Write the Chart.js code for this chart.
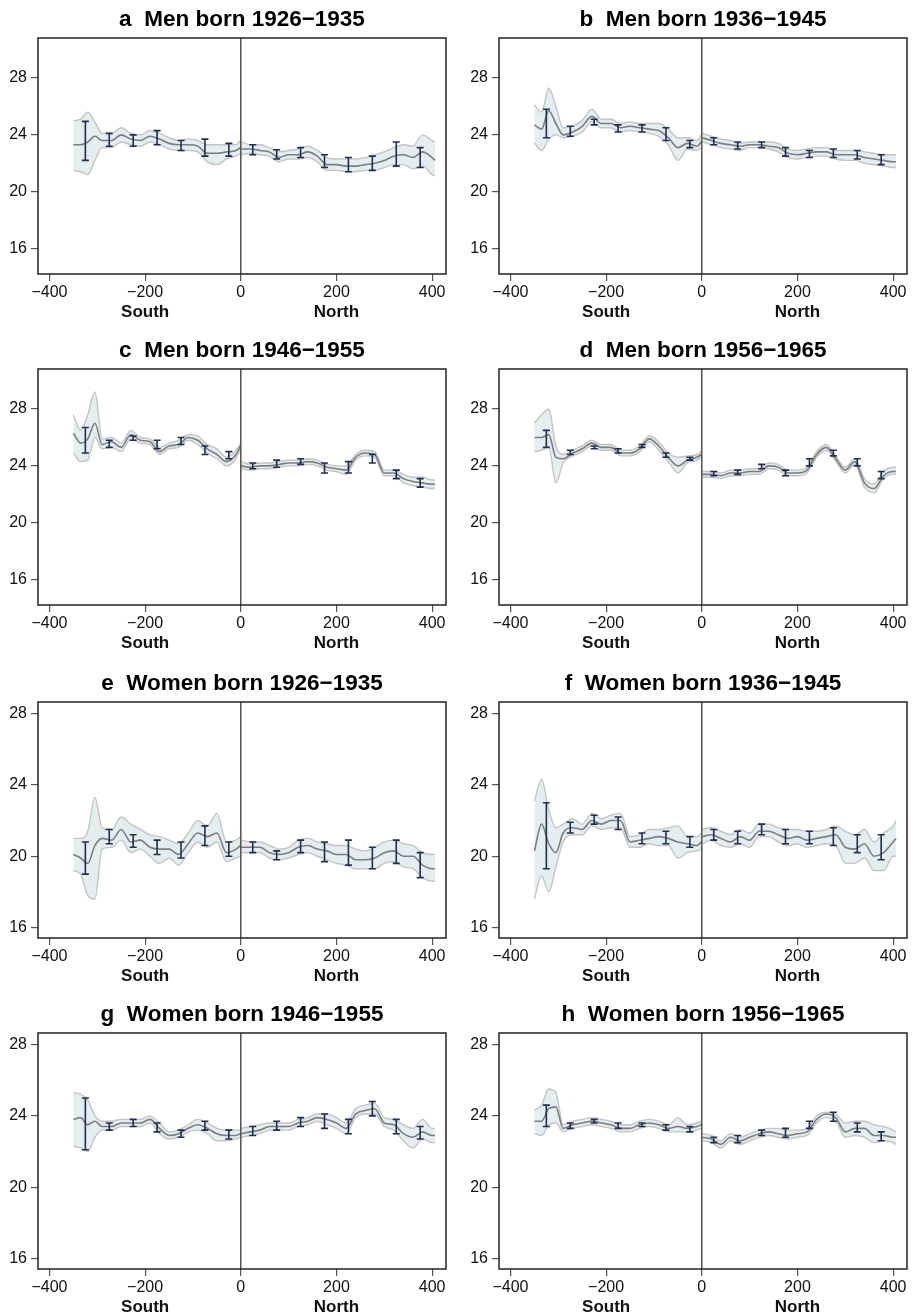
<!DOCTYPE html>
<html>
<head>
<meta charset="utf-8">
<script src="https://cdn.jsdelivr.net/npm/chart.js@4.4.1/dist/chart.umd.min.js"></script>
<style>
  body { margin: 0; background: #fff; width: 913px; height: 1315px; overflow: hidden; position: relative; }
  canvas { position: absolute; }
</style>
</head>
<body>
<canvas id="a" width="456" height="320" style="left:0;top:0"></canvas>
<canvas id="b" width="458" height="320" style="left:455px;top:0"></canvas>
<canvas id="c" width="456" height="320" style="left:0;top:331px"></canvas>
<canvas id="d" width="458" height="320" style="left:455px;top:331px"></canvas>
<canvas id="e" width="456" height="320" style="left:0;top:664px"></canvas>
<canvas id="f" width="458" height="320" style="left:455px;top:664px"></canvas>
<canvas id="g" width="456" height="320" style="left:0;top:995px"></canvas>
<canvas id="h" width="458" height="320" style="left:455px;top:995px"></canvas>
<script>
// distance grids (km), south side and north side of the border
const xsS = [-350,-335,-320,-305,-290,-270,-250,-230,-210,-190,-170,-150,-130,-110,-90,-70,-50,-30,-10,-1];
const xsN = [1,20,40,60,80,100,120,140,160,180,200,220,240,260,280,300,320,340,360,380,400,406];
const binX = [-325,-275,-225,-175,-125,-75,-25,25,75,125,175,225,275,325,375];
const xTicks = [-400,-200,0,200,400];
const yTicks = [16,20,24,28];

// a  Men born 1926-1935
const aMeanS = [23.3,23.3,23.5,23.9,23.6,23.6,24.0,23.7,23.6,23.9,23.7,23.4,23.3,23.3,23.2,22.7,22.7,22.8,22.9,23.1];
const aLoS   = [21.5,21.4,21.2,22.2,23.1,23.1,23.5,23.3,23.2,23.5,23.3,23.0,22.9,22.9,22.8,22.1,21.9,22.3,22.5,22.7];
const aHiS   = [25.0,25.1,25.6,24.9,24.1,24.1,24.5,24.1,24.0,24.3,24.1,23.8,23.6,23.7,23.6,23.3,23.3,23.3,23.3,23.6];
const aMeanN = [23.0,23.0,22.9,22.8,22.4,22.6,22.6,22.8,22.5,21.9,21.9,21.8,21.8,21.9,22.0,22.2,22.5,22.6,22.4,22.8,22.4,22.2];
const aLoN   = [22.6,22.7,22.6,22.5,22.1,22.3,22.3,22.4,22.1,21.5,21.5,21.4,21.4,21.5,21.5,21.7,21.9,21.9,21.6,21.8,21.2,21.1];
const aHiN   = [23.5,23.3,23.3,23.1,22.8,22.9,23.0,23.2,22.9,22.4,22.3,22.3,22.3,22.4,22.6,22.8,23.1,23.3,23.2,24.0,23.6,23.5];
const aBarLo = [22.2,23.2,23.2,23.3,22.9,22.5,22.5,22.6,22.3,22.4,21.7,21.4,21.5,21.8,21.7];
const aBarHi = [24.95,24.1,24.0,24.3,23.6,23.7,23.4,23.3,22.95,23.1,22.6,22.4,22.5,23.5,23.1];

// b  Men born 1936-1945
const bMeanS = [24.7,24.4,25.7,24.8,24.0,24.2,24.6,25.3,24.8,24.8,24.5,24.6,24.5,24.4,24.3,23.8,23.1,23.4,23.2,23.5];
const bLoS   = [23.4,22.9,23.7,24.0,23.8,23.9,24.2,24.9,24.5,24.5,24.2,24.3,24.2,24.1,23.9,23.3,22.2,23.0,22.9,23.1];
const bHiS   = [26.1,25.6,27.3,26.0,24.5,24.6,25.0,25.8,25.1,25.1,24.8,24.9,24.8,24.8,24.8,24.4,23.8,23.8,23.6,24.0];
const bMeanN = [23.8,23.6,23.4,23.3,23.2,23.3,23.3,23.2,23.1,22.7,22.6,22.7,22.8,22.8,22.6,22.6,22.6,22.4,22.3,22.2,22.1,22.1];
const bLoN   = [23.5,23.3,23.1,23.0,22.9,23.1,23.1,23.0,22.8,22.4,22.3,22.4,22.5,22.5,22.3,22.2,22.2,22.0,21.9,21.8,21.7,21.7];
const bHiN   = [24.1,23.9,23.7,23.6,23.4,23.5,23.5,23.5,23.4,23.0,22.9,23.0,23.1,23.1,22.9,22.9,22.9,22.8,22.7,22.6,22.6,22.6];
const bBarLo = [23.8,23.9,24.7,24.2,24.2,23.6,23.1,23.3,23.0,23.1,22.5,22.4,22.4,22.3,21.9];
const bBarHi = [25.8,24.6,25.1,24.7,24.7,24.5,23.6,23.8,23.5,23.5,23.1,22.9,23.0,22.9,22.6];

// c  Men born 1946-1955
const cMeanS = [26.3,25.6,25.9,27.0,25.5,25.7,25.3,26.2,25.8,25.7,25.0,25.4,25.5,26.0,25.8,25.2,24.8,24.3,24.8,25.4];
const cLoS   = [24.9,24.3,24.4,26.0,25.2,25.3,25.0,25.9,25.6,25.5,24.8,25.2,25.3,25.8,25.5,24.9,24.5,24.0,24.5,25.2];
const cHiS   = [27.6,26.5,27.6,29.2,25.9,26.0,25.6,26.5,26.0,25.9,25.3,25.6,25.8,26.2,26.1,25.5,25.2,24.6,25.1,25.5];
const cMeanN = [24.0,23.9,24.0,24.0,24.1,24.2,24.2,24.3,24.2,23.9,23.8,23.7,24.6,24.9,24.8,23.5,23.5,23.1,22.9,22.8,22.7,22.7];
const cLoN   = [23.8,23.7,23.8,23.8,23.9,24.0,24.0,24.1,24.0,23.7,23.6,23.4,24.4,24.7,24.6,23.3,23.3,22.8,22.6,22.5,22.4,22.4];
const cHiN   = [24.3,24.1,24.2,24.2,24.3,24.4,24.4,24.5,24.4,24.1,24.0,24.0,24.8,25.1,25.0,23.7,23.7,23.4,23.2,23.2,23.0,23.0];
const cBarLo = [24.9,25.3,25.8,25.2,25.5,24.8,24.5,23.8,23.9,24.1,23.5,23.5,24.2,23.1,22.5];
const cBarHi = [26.7,25.8,26.1,25.8,26.0,25.4,25.0,24.2,24.4,24.5,24.2,24.3,24.8,23.7,23.1];

// d  Men born 1956-1965
const dMeanS = [26.0,26.0,26.2,24.6,24.5,24.9,25.2,25.6,25.3,25.3,24.9,24.9,25.2,25.9,25.4,24.6,24.0,24.4,24.6,24.8];
const dLoS   = [25.0,25.1,25.3,22.8,24.2,24.7,25.0,25.4,25.1,25.1,24.7,24.7,25.0,25.7,25.1,24.3,23.5,24.2,24.4,24.6];
const dHiS   = [27.0,27.6,28.0,25.4,24.8,25.1,25.4,25.8,25.5,25.5,25.1,25.1,25.4,26.1,25.7,24.9,24.6,24.7,24.8,25.0];
const dMeanN = [23.4,23.4,23.3,23.5,23.5,23.6,23.6,24.0,23.9,23.5,23.5,23.7,24.8,25.3,24.5,23.7,24.3,22.8,22.4,23.3,23.6,23.6];
const dLoN   = [23.2,23.2,23.1,23.3,23.3,23.4,23.4,23.8,23.7,23.3,23.3,23.5,24.6,25.1,24.3,23.5,24.1,22.5,22.1,23.1,23.4,23.4];
const dHiN   = [23.6,23.6,23.5,23.7,23.7,23.8,23.8,24.2,24.1,23.7,23.7,23.9,25.0,25.5,24.7,23.9,24.5,23.1,22.7,23.6,23.9,23.9];
const dBarLo = [25.3,24.8,25.2,24.9,25.3,24.6,24.4,23.3,23.4,23.8,23.3,24.0,24.7,24.0,23.1];
const dBarHi = [26.5,25.1,25.4,25.2,25.5,24.9,24.6,23.6,23.7,24.1,23.7,24.5,25.1,24.5,23.6];

// e  Women born 1926-1935
const eMeanS = [20.1,19.9,19.6,20.6,21.0,20.9,21.5,20.8,20.9,20.5,20.4,20.4,20.1,20.7,21.3,21.1,21.3,20.2,20.4,20.6];
const eLoS   = [19.2,19.0,17.8,17.6,20.4,20.5,20.9,20.2,20.4,20.0,19.6,19.9,19.5,20.2,20.8,20.5,20.8,19.7,19.9,20.0];
const eHiS   = [21.0,21.0,21.4,23.3,21.6,21.5,22.2,21.8,21.5,21.2,21.1,20.9,20.7,21.3,22.0,21.7,22.4,20.8,20.9,21.1];
const eMeanN = [20.5,20.5,20.5,20.2,20.1,20.2,20.5,20.6,20.4,20.3,20.1,20.1,19.8,19.8,19.9,20.2,20.3,20.0,20.0,19.5,19.3,19.3];
const eLoN   = [20.2,20.2,20.2,19.9,19.8,19.9,20.1,20.2,20.0,19.8,19.6,19.5,19.3,19.3,19.3,19.6,19.7,19.4,19.3,18.8,18.6,18.6];
const eHiN   = [20.9,20.8,20.8,20.6,20.4,20.5,20.9,21.0,20.8,20.7,20.6,20.6,20.4,20.3,20.5,20.8,20.9,20.7,20.6,20.2,20.1,20.1];
const eBarLo = [19.0,20.7,20.5,20.1,19.9,20.6,20.0,20.2,19.8,20.2,19.7,19.5,19.3,19.6,18.8];
const eBarHi = [20.8,21.5,21.2,20.9,20.8,21.7,20.8,20.8,20.3,20.9,20.8,20.9,20.5,20.9,20.2];

// f  Women born 1936-1945
const fMeanS = [20.3,21.8,20.7,20.2,21.3,21.6,21.5,22.0,21.8,22.0,22.0,20.8,20.9,21.0,21.1,21.0,20.8,20.7,20.6,20.8];
const fLoS   = [17.6,18.9,18.0,19.4,20.8,21.2,21.2,21.7,21.5,21.6,21.6,20.5,20.5,20.7,20.6,20.6,19.9,20.2,20.3,20.4];
const fHiS   = [23.1,24.3,22.6,21.6,21.8,22.1,21.8,22.4,22.1,22.3,22.4,21.1,21.2,21.5,21.5,21.6,21.7,21.1,21.1,21.3];
const fMeanN = [21.1,21.2,21.0,20.8,21.1,20.9,21.4,21.4,21.2,21.0,21.1,20.9,21.0,21.1,21.2,20.5,20.4,20.7,20.0,20.2,20.8,21.0];
const fLoN   = [20.7,20.9,20.6,20.5,20.7,20.5,21.1,21.1,20.8,20.6,20.7,20.5,20.6,20.7,20.6,19.6,19.6,19.9,19.2,19.2,20.0,20.0];
const fHiN   = [21.5,21.6,21.4,21.2,21.5,21.3,21.8,21.8,21.6,21.5,21.5,21.4,21.4,21.5,21.7,21.4,21.2,21.5,20.8,21.3,21.7,22.0];
const fBarLo = [19.3,21.3,21.8,21.5,20.7,20.7,20.5,20.9,20.7,21.2,20.7,20.7,20.6,20.2,19.8];
const fBarHi = [23.0,21.9,22.3,22.2,21.3,21.4,21.1,21.5,21.4,21.8,21.5,21.4,21.6,21.2,21.2];

// g  Women born 1946-1955
const gMeanS = [23.8,23.9,23.5,23.7,23.4,23.4,23.6,23.6,23.6,23.8,23.3,22.9,23.0,23.3,23.5,23.3,23.0,22.9,22.9,23.0];
const gLoS   = [22.3,22.2,22.0,22.8,23.2,23.2,23.4,23.4,23.4,23.6,23.0,22.7,22.8,23.1,23.2,23.0,22.6,22.6,22.7,22.8];
const gHiS   = [25.3,25.2,24.9,24.0,23.7,23.7,23.8,23.8,23.8,24.0,23.6,23.1,23.2,23.5,23.8,23.6,23.3,23.2,23.2,23.2];
const gMeanN = [23.0,23.1,23.2,23.4,23.4,23.4,23.6,23.7,23.9,23.8,23.6,23.3,24.1,24.3,24.4,23.6,23.5,23.0,22.8,23.1,22.9,22.9];
const gLoN   = [22.8,22.9,23.0,23.2,23.2,23.2,23.4,23.5,23.7,23.5,23.3,23.0,23.9,24.1,24.1,23.4,23.2,22.6,22.2,22.7,22.5,22.5];
const gHiN   = [23.3,23.4,23.5,23.6,23.6,23.6,23.8,23.9,24.1,24.1,23.9,23.6,24.4,24.6,24.7,23.9,23.8,23.5,23.3,23.8,23.3,23.3];
const gBarLo = [22.1,23.2,23.4,23.1,22.8,23.2,22.7,22.9,23.2,23.4,23.3,23.0,24.0,23.0,22.7];
const gBarHi = [25.0,23.6,23.8,23.6,23.2,23.7,23.2,23.4,23.7,23.9,24.1,23.8,24.8,23.8,23.4];

// h  Women born 1956-1965
const hMeanS = [23.7,23.7,24.4,24.5,23.3,23.5,23.6,23.7,23.6,23.5,23.3,23.3,23.5,23.6,23.5,23.3,23.4,23.3,23.4,23.5];
const hLoS   = [23.0,22.9,23.5,23.6,23.1,23.3,23.4,23.5,23.4,23.3,23.1,23.1,23.3,23.4,23.3,23.1,23.1,23.1,23.2,23.3];
const hHiS   = [24.3,24.6,25.5,25.3,23.5,23.7,23.8,23.9,23.8,23.7,23.5,23.5,23.7,23.8,23.7,23.5,23.9,23.5,23.6,23.7];
const hMeanN = [22.8,22.7,22.4,22.8,22.6,22.8,23.0,23.1,23.0,22.9,23.0,23.1,23.8,24.1,23.9,23.1,23.3,23.3,22.9,22.9,22.8,22.8];
const hLoN   = [22.6,22.5,22.2,22.6,22.4,22.6,22.8,22.9,22.8,22.7,22.8,22.9,23.6,23.9,23.7,22.8,22.9,22.8,22.5,22.6,22.5,22.4];
const hHiN   = [23.0,22.9,22.6,23.0,22.8,23.0,23.2,23.3,23.3,23.2,23.2,23.3,24.0,24.2,24.1,23.6,23.7,23.7,23.5,23.4,23.2,23.1];
const hBarLo = [23.4,23.3,23.6,23.3,23.4,23.2,23.1,22.5,22.5,22.9,22.8,23.3,23.7,23.1,22.6];
const hBarHi = [24.6,23.6,23.8,23.6,23.6,23.5,23.4,22.8,22.9,23.2,23.3,23.7,24.2,23.6,23.1];

const panels = {
  a: { title: 'a  Men born 1926\u22121935',   y: [14.2, 30.82],  s: [aMeanS, aLoS, aHiS], n: [aMeanN, aLoN, aHiN], bars: [aBarLo, aBarHi] },
  b: { title: 'b  Men born 1936\u22121945',   y: [14.2, 30.82],  s: [bMeanS, bLoS, bHiS], n: [bMeanN, bLoN, bHiN], bars: [bBarLo, bBarHi] },
  c: { title: 'c  Men born 1946\u22121955',   y: [14.2, 30.82],  s: [cMeanS, cLoS, cHiS], n: [cMeanN, cLoN, cHiN], bars: [cBarLo, cBarHi] },
  d: { title: 'd  Men born 1956\u22121965',   y: [14.2, 30.82],  s: [dMeanS, dLoS, dHiS], n: [dMeanN, dLoN, dHiN], bars: [dBarLo, dBarHi] },
  e: { title: 'e  Women born 1926\u22121935', y: [15.42, 28.64], s: [eMeanS, eLoS, eHiS], n: [eMeanN, eLoN, eHiN], bars: [eBarLo, eBarHi] },
  f: { title: 'f  Women born 1936\u22121945', y: [15.42, 28.64], s: [fMeanS, fLoS, fHiS], n: [fMeanN, fLoN, fHiN], bars: [fBarLo, fBarHi] },
  g: { title: 'g  Women born 1946\u22121955', y: [15.42, 28.64], s: [gMeanS, gLoS, gHiS], n: [gMeanN, gLoN, gHiN], bars: [gBarLo, gBarHi] },
  h: { title: 'h  Women born 1956\u22121965', y: [15.42, 28.64], s: [hMeanS, hLoS, hHiS], n: [hMeanN, hLoN, hHiN], bars: [hBarLo, hBarHi] }
};

Chart.defaults.font.family = "'Liberation Sans', Arial, sans-serif";
Chart.defaults.color = '#111';

const pts = (xs, ys) => xs.map((x, i) => ({ x: x, y: ys[i] }));

// error bars, zero line and box round the plot
const framePlugin = {
  id: 'framePlugin',
  afterDatasetsDraw(chart) {
    const { ctx, chartArea: c, scales: { x, y } } = chart;
    const p = panels[chart.canvas.id];
    ctx.save();
    ctx.strokeStyle = '#1f2e57';
    ctx.lineWidth = 1.6;
    binX.forEach((bx, i) => {
      const px = x.getPixelForValue(bx);
      const y1 = y.getPixelForValue(p.bars[0][i]);
      const y2 = y.getPixelForValue(p.bars[1][i]);
      ctx.beginPath();
      ctx.moveTo(px, y1); ctx.lineTo(px, y2);
      ctx.moveTo(px - 3.5, y1); ctx.lineTo(px + 3.5, y1);
      ctx.moveTo(px - 3.5, y2); ctx.lineTo(px + 3.5, y2);
      ctx.stroke();
    });
    const zx = x.getPixelForValue(0);
    ctx.strokeStyle = '#444';
    ctx.lineWidth = 1.4;
    ctx.beginPath(); ctx.moveTo(zx, c.top); ctx.lineTo(zx, c.bottom); ctx.stroke();
    ctx.strokeStyle = '#222';
    ctx.lineWidth = 1.5;
    ctx.strokeRect(c.left, c.top, c.right - c.left, c.bottom - c.top);
    ctx.restore();
  }
};

const minus = v => (v < 0 ? '\u2212' + Math.abs(v) : '' + v);

function makePanel(id, rightCol) {
  const p = panels[id];
  const band = { borderColor: '#c4c4c4', borderWidth: 1.4, pointRadius: 0, cubicInterpolationMode: 'monotone', order: 2 };
  const mean = { borderColor: '#7d7d7d', borderWidth: 1.6, pointRadius: 0, cubicInterpolationMode: 'monotone', fill: false, order: 1 };
  const fillCol = '#e4edf0';
  new Chart(document.getElementById(id), {
    type: 'line',
    data: {
      datasets: [
        { ...band, data: pts(xsS, p.s[1]), fill: false },
        { ...band, data: pts(xsS, p.s[2]), fill: '-1', backgroundColor: fillCol },
        { ...band, data: pts(xsN, p.n[1]), fill: false },
        { ...band, data: pts(xsN, p.n[2]), fill: '-1', backgroundColor: fillCol },
        { ...mean, data: pts(xsS, p.s[0]) },
        { ...mean, data: pts(xsN, p.n[0]) }
      ]
    },
    options: {
      responsive: false,
      animation: false,
      events: [],
      layout: { padding: { left: rightCol ? 6 : 0, right: rightCol ? 6 : 10, top: 0, bottom: 0 } },
      plugins: {
        legend: { display: false },
        tooltip: { enabled: false },
        title: {
          display: true, text: p.title, color: '#000', fullSize: false,
          font: { size: 22.5, weight: 'bold' },
          padding: { top: 6, bottom: 5 }
        }
      },
      scales: {
        x: {
          type: 'linear', position: 'bottom', min: -424, max: 429, weight: 0,
          afterBuildTicks: s => { s.ticks = xTicks.map(v => ({ value: v })); },
          afterFit: s => { s.height = 28; },
          grid: { drawOnChartArea: false, drawTicks: true, tickLength: 7, color: '#555', lineWidth: 1.2 },
          border: { display: false },
          ticks: { font: { size: 16 }, padding: 2, maxRotation: 0, autoSkip: false, callback: v => minus(v) }
        },
        x2: {
          type: 'linear', position: 'bottom', min: -424, max: 429, weight: 1,
          afterBuildTicks: s => { s.ticks = [{ value: -200 }, { value: 200 }]; },
          afterFit: s => { s.height = 18; },
          grid: { display: false, drawTicks: false },
          border: { display: false },
          ticks: { font: { size: 17, weight: 'bold' }, padding: 0, maxRotation: 0, autoSkip: false,
                   callback: v => (v < 0 ? 'South' : 'North') }
        },
        y: {
          type: 'linear', position: 'left', min: p.y[0], max: p.y[1],
          afterBuildTicks: s => { s.ticks = yTicks.map(v => ({ value: v })); },
          afterFit: s => { s.width = 38; },
          grid: { drawOnChartArea: false, drawTicks: true, tickLength: 7, color: '#555', lineWidth: 1.2 },
          border: { display: false },
          ticks: { font: { size: 16 }, padding: 4, callback: v => '' + v }
        }
      }
    },
    plugins: [framePlugin]
  });
}

['a', 'c', 'e', 'g'].forEach(id => makePanel(id, false));
['b', 'd', 'f', 'h'].forEach(id => makePanel(id, true));
</script>
</body>
</html>
